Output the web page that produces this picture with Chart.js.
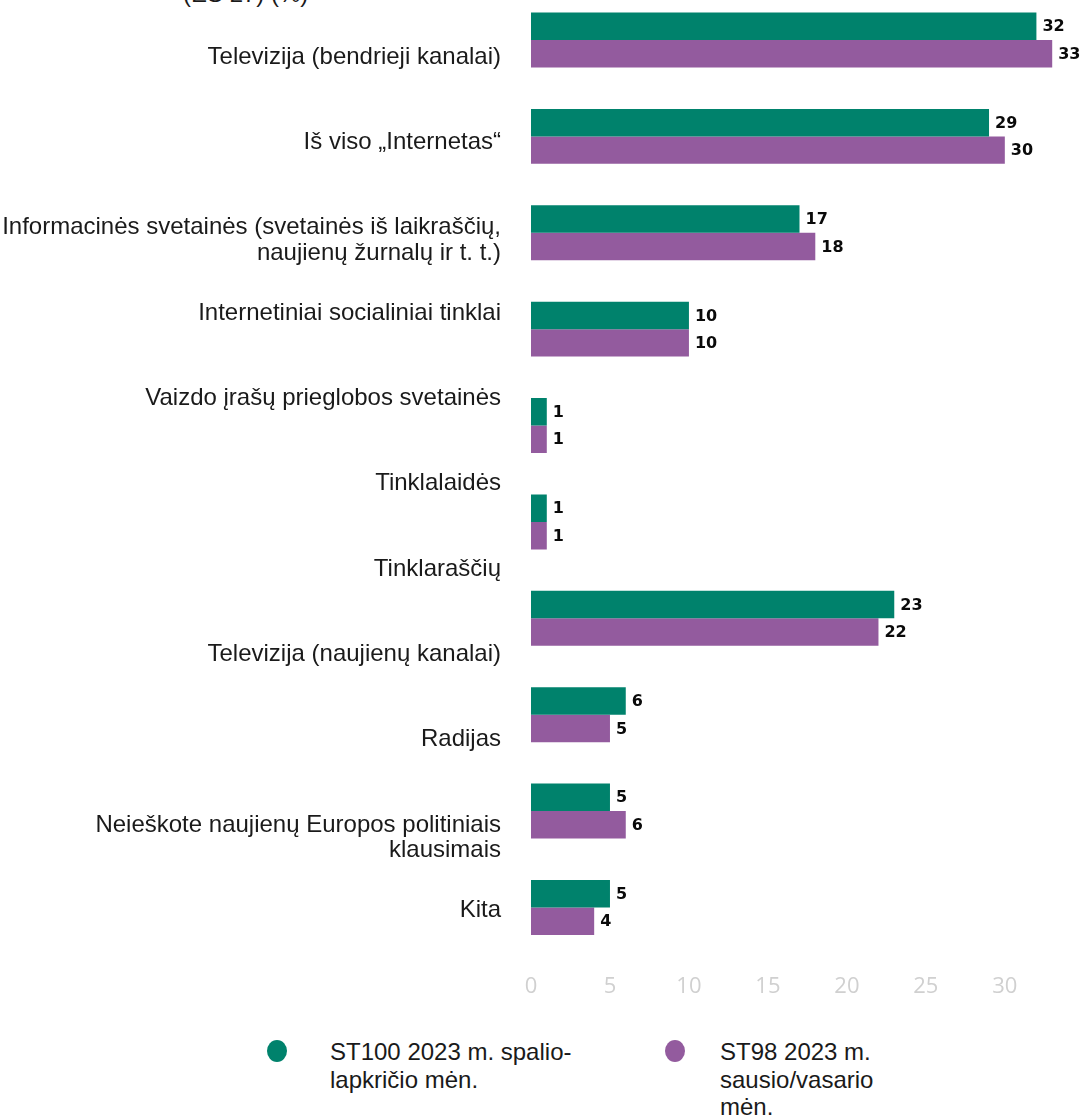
<!DOCTYPE html>
<html><head><meta charset="utf-8">
<script src="https://cdn.jsdelivr.net/npm/chart.js@4.4.1/dist/chart.umd.min.js"></script>
<style>
html,body{margin:0;padding:0;background:#fff;}
#page{position:relative;width:1084px;height:1115px;overflow:hidden;font-family:"Liberation Sans",Arial,sans-serif;}
#title{position:absolute;left:183px;top:-18px;font-size:24px;line-height:24px;color:#1a1a1a;white-space:nowrap;}
#wrap{position:absolute;left:0;top:-51px;width:1084px;height:1074px;}
.legtext{position:absolute;font-size:24px;line-height:27.5px;color:#1a1a1a;white-space:nowrap;}
.dot{position:absolute;width:20px;height:22px;border-radius:50%;}
</style></head><body>
<div id="page">
<div id="title">(ES 27) (%)</div>
<div id="wrap"><canvas id="c"></canvas></div>
<div id="legend"></div>
</div>
<script>
// Axis labels (as shown at the left of the chart)
const categories = [
  "Televizija (bendrieji kanalai)",
  "Iš viso „Internetas“",
  ["Informacinės svetainės (svetainės iš laikraščių,", "naujienų žurnalų ir t. t.)"],
  "Internetiniai socialiniai tinklai",
  "Vaizdo įrašų prieglobos svetainės",
  "Tinklalaidės",
  "Tinklaraščių",
  "Televizija (naujienų kanalai)",
  "Radijas",
  ["Neieškote naujienų Europos politiniais", "klausimais"],
  "Kita"
];
// Bar groups as drawn
const barGroups = [
  "Televizija (bendrieji kanalai)",
  "Iš viso „Internetas“",
  "Informacinės svetainės",
  "Internetiniai socialiniai tinklai",
  "Vaizdo įrašų prieglobos svetainės",
  "Tinklalaidės",
  "Televizija (naujienų kanalai)",
  "Radijas",
  "Neieškote naujienų Europos politiniais klausimais",
  "Kita"
];
const seriesNames = ["ST100 2023 m. spalio-lapkričio mėn.", "ST98 2023 m. sausio/vasario mėn."];
const legendLines = [["ST100 2023 m. spalio-", "lapkričio mėn."], ["ST98 2023 m.", "sausio/vasario", "mėn."]];
const st100 = [32, 29, 17, 10, 1, 1, 23, 6, 5, 5];
const st98  = [33, 30, 18, 10, 1, 1, 22, 5, 6, 4];
const xTicks = [0, 5, 10, 15, 20, 25, 30];
const colors = ["#00826c", "#935b9e"];

const valueLabels = {
  id: 'valueLabels',
  afterDatasetsDraw(chart) {
    const ctx = chart.ctx;
    ctx.save();
    ctx.font = "bold 16px 'DejaVu Sans', Verdana, sans-serif";
    ctx.fillStyle = "#0a0a0a";
    ctx.textBaseline = "middle";
    ctx.textAlign = "left";
    chart.data.datasets.forEach((ds, di) => {
      chart.getDatasetMeta(di).data.forEach((bar, i) => {
        ctx.fillText(String(ds.data[i]), bar.x + 6, bar.y + 1);
      });
    });
    ctx.restore();
  }
};

new Chart(document.getElementById('c'), {
  type: 'bar',
  data: {
    labels: barGroups,
    datasets: [
      { label: seriesNames[0], data: st100, backgroundColor: colors[0], categoryPercentage: 0.57, barPercentage: 1 },
      { label: seriesNames[1], data: st98, backgroundColor: colors[1], categoryPercentage: 0.57, barPercentage: 1 }
    ]
  },
  options: {
    indexAxis: 'y',
    responsive: true,
    maintainAspectRatio: false,
    animation: false,
    layout: { padding: { top: 10, right: 16, bottom: 5, left: 0 } },
    plugins: { legend: { display: false }, tooltip: { enabled: false } },
    scales: {
      y: { type: 'category', display: false, offset: true },
      yLabels: {
        type: 'linear', position: 'left', reverse: true, min: -0.766, max: 10.532,
        offset: false, bounds: 'data',
        grid: { display: false, drawTicks: false, offset: false }, border: { display: false },
        afterBuildTicks: a => { a.ticks = categories.map((_, i) => ({ value: i })); },
        afterFit: a => { a.width = 531; },
        ticks: {
          autoSkip: false, padding: 30, color: '#1a1a1a',
          font: { family: "'Liberation Sans', Arial, sans-serif", size: 24, lineHeight: 1.07 },
          // multi-line labels hang down from the tick: first line sits on the tick
          callback: v => Array.isArray(categories[v]) ? [''].concat(categories[v]) : categories[v]
        }
      },
      x: {
        min: 0, max: 34,
        grid: { display: false, drawTicks: false }, border: { display: false },
        afterBuildTicks: a => { a.ticks = xTicks.map(v => ({ value: v })); },
        ticks: { color: '#d0d0d0', padding: 18, font: { family: "'Open Sans', sans-serif", size: 22 } }
      }
    }
  },
  plugins: [valueLabels]
});

// HTML legend
const legend = document.getElementById('legend');
const legPos = [{ dx: 267, tx: 330 }, { dx: 665, tx: 720 }];
seriesNames.forEach((n, i) => {
  const d = document.createElement('div');
  d.className = 'dot';
  d.style.left = legPos[i].dx + 'px';
  d.style.top = '1040px';
  d.style.background = colors[i];
  legend.appendChild(d);
  const t = document.createElement('div');
  t.className = 'legtext';
  t.style.left = legPos[i].tx + 'px';
  t.style.top = '1038px';
  t.innerHTML = legendLines[i].join('<br>');
  legend.appendChild(t);
});
</script>
</body></html>
